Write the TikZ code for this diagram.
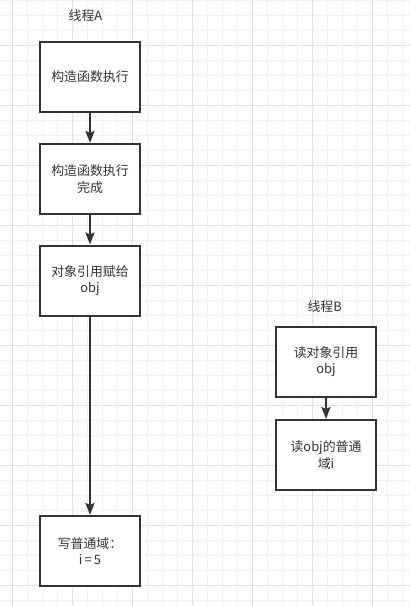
\documentclass[tikz,border=0pt]{standalone}
\usepackage{fontspec}
\newfontfamily\cjk{Noto Sans CJK SC}
\usetikzlibrary{arrows.meta}
\definecolor{gridminor}{HTML}{F0F0F0}
\definecolor{gridmajor}{HTML}{E0E0E0}
\definecolor{ink}{HTML}{333333}
\tikzset{
  flowbox/.style={draw=ink, line width=2pt, fill=white, minimum width=100pt, minimum height=70pt, align=center, text=ink, font=\cjk\fontsize{12.9}{16.5}\selectfont, inner sep=2pt},
  title/.style={text=ink, font=\cjk\fontsize{12.9}{15}\selectfont, inner sep=0pt},
  flowarrow/.style={draw=ink, line width=2pt, -{Stealth[length=12pt,width=9pt,inset=2pt]}}
}
\begin{document}
\begin{tikzpicture}[x=1pt,y=-1pt]
\useasboundingbox (0,0) rectangle (410,606);
\fill[white] (0,0) rectangle (410,606);
% grid
\foreach \i in {0,...,26} {
  \draw[gridminor, line width=1pt] ({12.5+15*\i},0) -- ({12.5+15*\i},606);
}
\foreach \j in {0,...,40} {
  \draw[gridminor, line width=1pt] (0,{15*\j}) -- (410,{15*\j});
}
\foreach \i in {0,...,6} {
  \draw[gridmajor, line width=1pt] ({12.5+60*\i},0) -- ({12.5+60*\i},606);
}
\foreach \j in {0,...,9} {
  \draw[gridmajor, line width=1pt] (0,{45+60*\j}) -- (410,{45+60*\j});
}
% titles
\node[title] (tA) at (85.5,15.7) {线程A};
\node[title] (tB) at (324.7,307) {线程B};
% thread A
\node[flowbox] (a1) at (90,77) {构造函数执行};
\node[flowbox] (a2) at (90,179) {构造函数执行\\完成};
\node[flowbox] (a3) at (90,280.5) {对象引用赋给\\obj};
\node[flowbox] (a4) at (90,551) {写普通域：\\i\,=\,5};
% thread B
\node[flowbox] (b1) at (326,361.5) {读对象引用\\obj};
\node[flowbox] (b2) at (326,455) {读obj的普通\\域i};
% arrows
\draw[flowarrow] (a1) -- (a2);
\draw[flowarrow] (a2) -- (a3);
\draw[flowarrow] (a3) -- (a4);
\draw[flowarrow] (b1) -- (b2);
\end{tikzpicture}
\end{document}
